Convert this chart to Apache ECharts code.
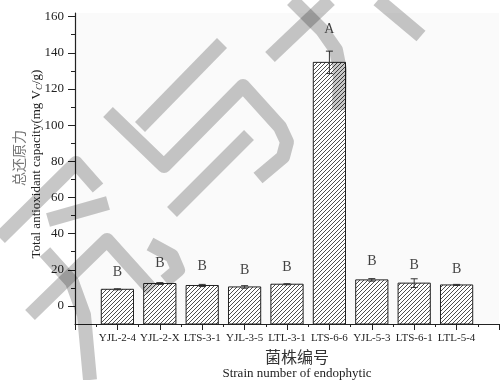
<!DOCTYPE html>
<html><head><meta charset="utf-8">
<script src="https://cdn.jsdelivr.net/npm/echarts@6/dist/echarts.min.js"></script>
<style>html,body{margin:0;padding:0;background:#fff}#c{width:502px;height:380px}</style>
</head><body><div id="c"></div>
<script>
// ---- data ----
const categories = ['YJL-2-4','YJL-2-X','LTS-3-1','YJL-3-5','LTL-3-1','LTS-6-6','YJL-5-3','LTS-6-1','LTL-5-4'];
const values     = [9.2, 12.4, 11.3, 10.5, 12.0, 134.7, 14.4, 12.6, 11.6];
const errors     = [0.3, 0.5, 0.6, 0.7, 0.3, 6.2, 0.7, 2.4, 0.3];
const letters    = ['B','B','B','B','B','A','B','B','B'];
const letterY    = [18.8, 23.3, 21.8, 19.9, 21.2, 152.8, 24.9, 22.7, 20.3];
const yTicks     = [0,20,40,60,80,100,120,140,160];
const yMinorTicks= [10,30,50,70,90,110,130,150];
const Y_MIN = -10, Y_MAX = 162;

// hatch pattern
function makeHatch(){
  const s=4, c=document.createElement('canvas'); c.width=s; c.height=s;
  const g=c.getContext('2d'); g.fillStyle='#fff'; g.fillRect(0,0,s,s);
  g.strokeStyle='#3a3a3a'; g.lineWidth=0.9;
  g.beginPath();
  g.moveTo(0,s); g.lineTo(s,0);
  g.moveTo(-1,1); g.lineTo(1,-1);
  g.moveTo(s-1,s+1); g.lineTo(s+1,s-1);
  g.stroke();
  return c;
}
const hatch = makeHatch();

const barData = categories.map((c,i)=>[i+1, values[i], errors[i]]);
const letterData = categories.map((c,i)=>[i+1, letterY[i]]);

const serif = 'Liberation Serif';
// background watermark strokes (decoration, not data)
const wmStyle = {stroke:'rgba(0,0,0,0.22)', lineWidth:14, fill:null, lineJoin:'round', lineCap:'butt'};
const wm = [
  [[108,112],[164,166],[243,86],[280,127],[287,142],[283,157],[258,178]],
  [[140,127],[222,43]],
  [[249,135],[172,212]],
  [[270,57],[330,0]],
  [[292,0],[322,30],[336,50],[340,70],[339,110]],
  [[378,0],[421,36]],
  [[0,238],[76,163],[98,188]],
  [[48,220],[108,203]],
  [[30,315],[107,240],[152,290]],
  [[150,244],[172,256],[178,270],[165,281]],
  [[45,252],[72,282],[84,315],[90,380]]
].map(p=>({type:'polyline', z:100, silent:true, shape:{points:p}, style:wmStyle}));

const chart = echarts.init(document.getElementById('c'), null, {renderer:'canvas'});
chart.setOption({
  animation:false,
  backgroundColor:'#fff',
  grid:{left:75, right:2, top:13, bottom:56, show:true, backgroundColor:'#fafafa', borderWidth:0},
  xAxis:{
    type:'value', min:0, max:10, interval:1,
    axisLine:{show:true, onZero:false, lineStyle:{color:'#222', width:1.2}},
    axisTick:{show:true, length:6, lineStyle:{color:'#222', width:1}},
    minorTick:{show:true, splitNumber:2, length:3, lineStyle:{color:'#222', width:1}},
    splitLine:{show:false}, minorSplitLine:{show:false},
    axisLabel:{formatter:v=>categories[v-1]||'', fontFamily:serif, fontSize:11, color:'#222', margin:9}
  },
  yAxis:[{
    type:'value', min:Y_MIN, max:Y_MAX,
    axisLine:{show:true, onZero:false, lineStyle:{color:'#222', width:1.2}},
    axisTick:{show:true, length:7, customValues:yTicks, lineStyle:{color:'#222', width:1}},
    axisLabel:{customValues:yTicks, fontFamily:serif, fontSize:13, color:'#222', margin:11},
    splitLine:{show:false}
  },{
    type:'value', min:Y_MIN, max:Y_MAX, position:'left', offset:0,
    axisLine:{show:false},
    axisTick:{show:true, length:4, customValues:yMinorTicks, lineStyle:{color:'#222', width:1}},
    axisLabel:{show:false}, splitLine:{show:false}
  }],
  series:[{
    type:'custom', yAxisIndex:0, data:barData,
    renderItem:function(params, api){
      const x=api.value(0), v=api.value(1), e=api.value(2);
      const bw=api.size([0.76,0])[0];
      const p0=api.coord([x,Y_MIN]), p1=api.coord([x,v]);
      const pt=api.coord([x,v+e]), pb=api.coord([x,v-e]);
      const cw=3.5;
      return {type:'group', children:[
        {type:'rect', shape:{x:p0[0]-bw/2, y:p1[1], width:bw, height:p0[1]-p1[1]},
         style:{fill:{image:hatch, repeat:'repeat'}, stroke:'#222', lineWidth:1}},
        {type:'line', shape:{x1:pt[0],y1:pt[1],x2:pb[0],y2:pb[1]}, style:{stroke:'#333',lineWidth:1}},
        {type:'line', shape:{x1:pt[0]-cw,y1:pt[1],x2:pt[0]+cw,y2:pt[1]}, style:{stroke:'#333',lineWidth:1}},
        {type:'line', shape:{x1:pb[0]-cw,y1:pb[1],x2:pb[0]+cw,y2:pb[1]}, style:{stroke:'#333',lineWidth:1}}
      ]};
    }
  },{
    type:'scatter', yAxisIndex:0, data:letterData, symbolSize:0,
    label:{show:true, position:'inside', formatter:p=>letters[p.dataIndex], fontFamily:serif, fontSize:14, color:'#111'}
  }],
  graphic:[
    {type:'text', x:297, y:357, style:{text:'菌株编号', font:'16px "Noto Sans CJK SC"', fill:'#333', align:'center', verticalAlign:'middle'}},
    {type:'text', x:297, y:374, style:{text:'Strain number of endophytic', font:'13px "Liberation Serif"', fill:'#222', align:'center', verticalAlign:'middle'}},
    {type:'text', x:37, y:164, rotation:Math.PI/2,
     style:{text:'Total antioxidant capacity(mg V{sub|C}/g)', font:'13px "Liberation Serif"', fill:'#222', align:'center', verticalAlign:'middle',
       rich:{sub:{fontSize:9, fontFamily:serif, fontStyle:'italic', verticalAlign:'bottom', padding:[6,0,0,0], fill:'#222'}}}},
    {type:'text', x:19, y:158, rotation:Math.PI/2, style:{text:'总还原力', font:'14px "Noto Sans CJK SC"', fill:'#777', align:'center', verticalAlign:'middle'}}
  ].concat(wm)
});
</script></body></html>
